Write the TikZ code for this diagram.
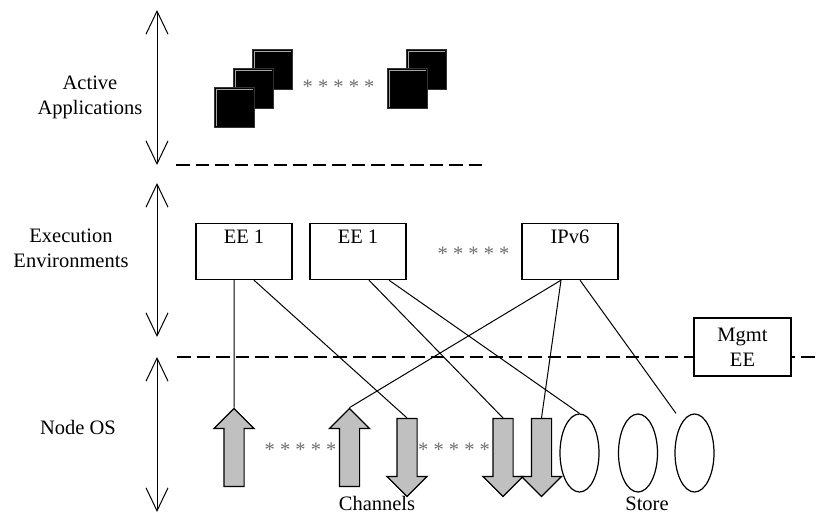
\documentclass[tikz,border=0pt]{standalone}
\usepackage{fontspec}
\setmainfont{Liberation Serif}
\usepackage{tikz}
\usetikzlibrary{arrows.meta,shapes.geometric,shapes.arrows,positioning}
\definecolor{chanGray}{RGB}{192,192,192}
\definecolor{starGray}{RGB}{110,110,110}

\begin{document}
\begin{tikzpicture}[x=1bp,y=-1bp,
	every node/.style={font=\fontsize{20.5bp}{25bp}\selectfont},
	layerArrow/.style={{Straight Barb[length=23bp,width=22bp]}-{Straight Barb[length=23bp,width=22bp]}, line width=1bp},
	layerSep/.style={dash pattern=on 13.5bp off 6bp, line width=1.6bp},
	stars/.style={text=starGray, anchor=base, inner sep=0pt},
	eeBox/.style={draw, line width=1.2bp, fill=white, minimum width=96bp, inner sep=0pt, text height=20bp, text depth=36bp, anchor=north},
	appWin/.style={fill=black, draw=black!80, line width=0.6bp, minimum size=40bp, inner sep=0pt, anchor=north west,
		path picture={\draw[gray!70, line width=0.8bp]
			([shift={(2.5bp,1bp)}]path picture bounding box.south west) |- ([shift={(-1.5bp,-2.5bp)}]path picture bounding box.north east);}},
	chan/.style={single arrow, draw, line width=1.2bp, fill=chanGray, minimum height=78bp,
		text height=9.5bp, text depth=9.5bp, text width=0pt,
		single arrow head extend=10bp, single arrow tip angle=90, single arrow head indent=0bp, inner sep=0pt},
	store/.style={ellipse, draw, line width=1.2bp, minimum width=39bp, minimum height=78bp, inner sep=0pt},
	link/.style={line width=1bp}]

\useasboundingbox (0,0) rectangle (820,513);

% layers
\coordinate (aaTop) at (157,10);
\coordinate (aaBot) at (157,165);
\coordinate (eeTop) at (157,183);
\coordinate (eeBot) at (157,337);
\coordinate (osTop) at (157,357);
\coordinate (osBot) at (157,512);
\draw[layerArrow] (aaTop) -- (aaBot);
\draw[layerArrow] (eeTop) -- (eeBot);
\draw[layerArrow] (osTop) -- (osBot);

\coordinate (sepAL) at (176,165);
\coordinate (sepAR) at (483,165);
\coordinate (sepBL) at (177,357);
\coordinate (sepBR) at (820,357);
\draw[layerSep] (sepAL) -- (sepAR);
\draw[layerSep] (sepBL) -- (sepBR);

\node[align=center] (aaText) at (90,97) {Active\\Applications};
\node[align=center] (eeText) at (71,248.5) {Execution\\Environments};
\node (osText) at (78,427) {Node OS};

% active applications
\node[appWin] (appA3) at (252,49) {};
\node[appWin] (appA2) at (233,68) {};
\node[appWin] (appA1) at (214,87) {};
\node[appWin] (appB2) at (406,49) {};
\node[appWin] (appB1) at (387,68) {};
\node[stars] (starsA) at (338.5,94) {* * * * *};

% execution environments
\node[eeBox] (eeA) at (244,223) {EE 1};
\node[eeBox] (eeB) at (358,223) {EE 1};
\node[eeBox] (eeC) at (570,223) {IPv6};
\node[stars] (starsB) at (473.5,261) {* * * * *};
\node[draw, line width=1.2bp, fill=white, minimum width=97bp, minimum height=58bp, inner sep=0pt, align=center] (mgmt) at (742.5,347) {Mgmt\\EE};

% node os
\node[chan, rotate=90]  (upA) at (234,452.5) {};
\node[chan, rotate=90]  (upB) at (349.5,452.5) {};
\node[chan, rotate=-90] (dnA) at (407,452.5) {};
\node[chan, rotate=-90] (dnB) at (503,452.5) {};
\node[chan, rotate=-90] (dnC) at (541.5,452.5) {};
\node[store] (stA) at (579.5,453) {};
\node[store] (stB) at (638,453) {};
\node[store] (stC) at (694.5,453) {};
\node[stars] (starsC) at (300.5,456) {* * * * *};
\node[stars] (starsD) at (454,456) {* * * * *};
\node[anchor=base] (chanText) at (377,510) {Channels};
\node[anchor=base] (storeText) at (647,510) {Store};

\draw[link] ([xshift=-10bp]eeA.south) -- (upA.tip);
\draw[link] ([xshift=10bp]eeA.south) -- (dnA.tail);
\draw[link] ([xshift=11bp]eeB.south) -- (dnB.tail);
\draw[link] ([xshift=31bp]eeB.south) -- (stA.north);
\draw[link] ([xshift=-9bp]eeC.south) -- (upB.tip);
\draw[link] ([xshift=-9bp]eeC.south) -- (dnC.tail);
\draw[link] ([xshift=10bp]eeC.south) -- ([xshift=-18.5bp]stC.north);
\end{tikzpicture}
\end{document}
